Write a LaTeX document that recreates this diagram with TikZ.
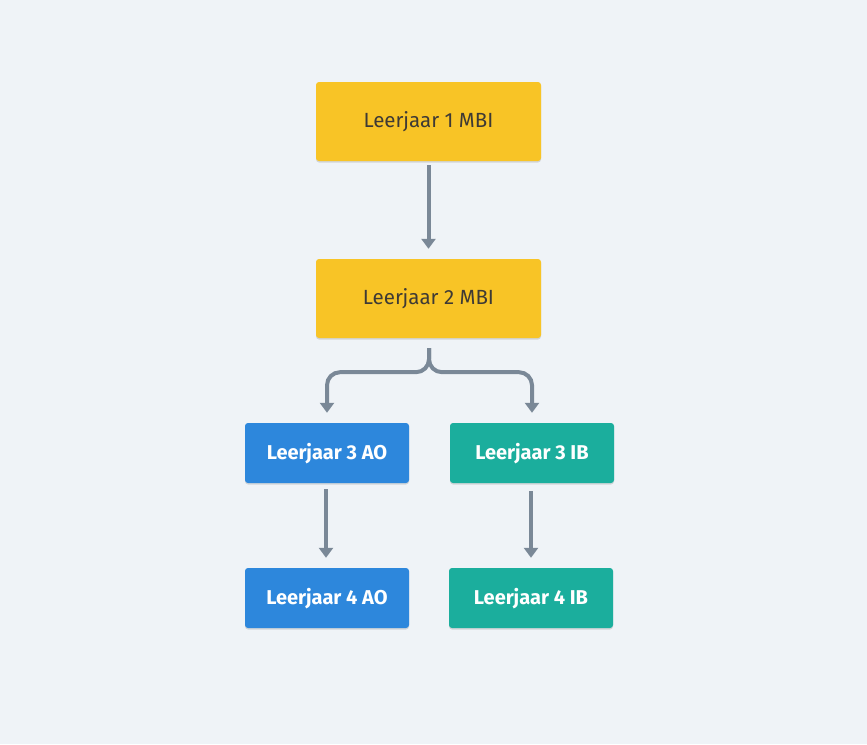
\documentclass[tikz,border=0pt]{standalone}
\usepackage{fontspec}
\setmainfont{Fira Sans}
\usetikzlibrary{arrows.meta,shadows}
\definecolor{bgc}{HTML}{EFF3F7}
\definecolor{ylw}{HTML}{F8C426}
\definecolor{blu}{HTML}{2D87DC}
\definecolor{tea}{HTML}{1BAE9D}
\definecolor{arr}{HTML}{7A8897}
\definecolor{dtxt}{HTML}{3E3A35}
\tikzset{
  x=1pt,y=-1pt,
  box/.style={rectangle,rounded corners=3pt,inner sep=0pt,text height=12pt,text depth=0pt,
    drop shadow={shadow xshift=0pt,shadow yshift=-1.5pt,opacity=0.12,fill=black}},
  ybox/.style={box,fill=ylw,minimum width=225pt,minimum height=79pt,text=dtxt,font=\fontsize{20.5}{24}\selectfont},
  bbox/.style={box,fill=blu,minimum width=164pt,minimum height=60pt,text=white,font=\fontsize{20}{24}\selectfont\bfseries},
  tbox/.style={box,fill=tea,minimum width=164pt,minimum height=60pt,text=white,font=\fontsize{20}{24}\selectfont\bfseries},
  conn/.style={draw=arr,line width=4pt,-{Triangle[width=14pt,length=10pt]},shorten <=4pt,shorten >=10pt},
}
\begin{document}
\begin{tikzpicture}
\fill[bgc] (0,0) rectangle (867,744);
\useasboundingbox (0,0) rectangle (867,744);
\node[ybox] (b1) at (428.5,121.5) {Leerjaar 1 MBI};
\node[ybox] (b2) at (428.5,298.5) {Leerjaar 2 MBI};
\node[bbox] (b3a) at (327,453) {Leerjaar 3 AO};
\node[tbox] (b3i) at (532,453) {Leerjaar 3 IB};
\node[bbox] (b4a) at (327,598) {Leerjaar 4 AO};
\node[tbox] (b4i) at (531,598) {Leerjaar 4 IB};
\draw[conn] (b1.south) -- (b2.north);
\draw[conn,rounded corners=13pt,shorten <=10pt] ([xshift=0.5pt]b2.south) -- ++(0,34) -| (b3a.north);
\draw[conn,rounded corners=13pt,shorten <=10pt] ([xshift=0.5pt]b2.south) -- ++(0,34) -| (b3i.north);
\draw[conn,shorten <=6pt] ([xshift=-1pt]b3a.south) -- ([xshift=-1pt]b4a.north);
\draw[conn,shorten <=8pt] ([xshift=-1pt]b3i.south) -- (b4i.north);
\end{tikzpicture}
\end{document}
